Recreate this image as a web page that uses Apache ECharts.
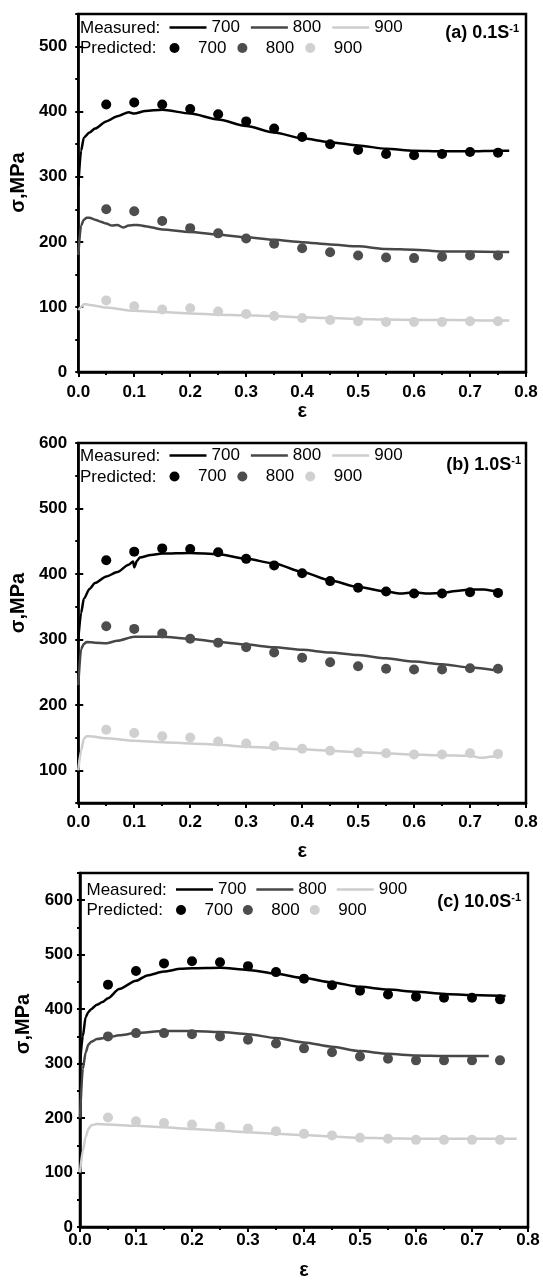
<!DOCTYPE html>
<html><head><meta charset="utf-8">
<script src="https://cdn.jsdelivr.net/npm/echarts@6/dist/echarts.min.js"></script>
<style>html,body{margin:0;padding:0;background:#fff}#c{width:543px;height:1281px}</style>
</head><body><div id="c"></div>
<script>
// ---------- data ----------
const temps = ['700', '800', '900'];
const strainPred = [0.05,0.10,0.15,0.20,0.25,0.30,0.35,0.40,0.45,0.50,0.55,0.60,0.65,0.70,0.75];
const panelLabels = ['(a) 0.1S', '(b) 1.0S', '(c) 10.0S'];

// (a) 0.1 s^-1
const aM700 = [[0,285],[0.005,340],[0.01,360],[0.02,368],[0.03,374],[0.05,385],[0.07,393],[0.09,399],[0.1,397],[0.12,401],[0.15,403],[0.2,397],[0.25,388],[0.3,378],[0.35,368],[0.4,359],[0.45,353],[0.5,348],[0.55,343],[0.6,340],[0.65,339],[0.7,339],[0.75,340],[0.77,340]];
const aM800 = [[0,180],[0.005,225],[0.01,234],[0.015,237],[0.02,237],[0.03,234],[0.04,231],[0.05,228],[0.06,225],[0.07,226],[0.08,222],[0.09,225],[0.1,226],[0.11,225.5],[0.12,224],[0.15,219],[0.2,215],[0.25,211],[0.3,207],[0.35,203],[0.4,199.5],[0.45,196],[0.5,193],[0.55,189],[0.6,188],[0.65,185],[0.7,185],[0.75,184.5],[0.77,184.5]];
const aM900 = [[0,95],[0.005,100],[0.01,104],[0.015,104],[0.02,103],[0.05,99],[0.1,94],[0.15,92],[0.2,90],[0.25,88],[0.3,87],[0.35,86],[0.4,84],[0.45,83],[0.5,81.5],[0.55,80.5],[0.6,80],[0.65,80],[0.7,79.5],[0.75,79],[0.77,79]];
const aP700 = [411,414,411,404,396,385,374,361,350,341,335,333,335,338,337];
const aP800 = [250,247,232,221,213,205,197,190,184,179,176,175,177,179,179];
const aP900 = [110,101,96,98,93,89,86,83,80,78,77,77,77,78,78];

// (b) 1.0 s^-1
const bM700 = [[0,300],[0.005,340],[0.01,362],[0.02,377],[0.03,386],[0.05,396],[0.07,403],[0.09,414],[0.098,419],[0.1,410],[0.105,420],[0.11,425],[0.13,429],[0.15,431],[0.2,432],[0.25,430],[0.3,423],[0.35,416],[0.4,403],[0.45,390],[0.5,380],[0.55,373],[0.575,370],[0.6,372],[0.625,370],[0.65,371],[0.675,374],[0.7,376],[0.725,376],[0.75,372]];
const bM800 = [[0,230],[0.005,285],[0.01,293],[0.015,296],[0.03,295],[0.05,294],[0.07,298],[0.1,304],[0.15,304],[0.2,301],[0.25,296],[0.3,292],[0.35,288],[0.4,284],[0.45,280],[0.5,276],[0.55,271],[0.6,266],[0.65,262],[0.7,257],[0.75,252]];
const bM900 = [[0,100],[0.005,130],[0.01,148],[0.015,152],[0.02,152],[0.05,149],[0.1,145],[0.15,143],[0.2,141],[0.25,139],[0.3,136],[0.35,134],[0.4,132],[0.45,130],[0.5,127.5],[0.55,126],[0.6,124],[0.65,123],[0.7,122],[0.72,119],[0.74,121],[0.75,120]];
const bP700 = [421,434,439,438,433,423,413,401,389,379,373,370,370,372,371];
const bP800 = [320,316,309,301,295,288,280,272,265,259,255,254,254,256,255];
const bP900 = [162,157,152,150,144,141,137,133,130,127,126,124,124,126,125];

// (c) 10.0 s^-1
const cM700 = [[0,300],[0.005,350],[0.01,385],[0.015,395],[0.02,400],[0.03,408],[0.04,413],[0.05,420],[0.07,437],[0.1,452],[0.12,462],[0.15,469],[0.18,474],[0.2,475],[0.25,476],[0.3,472],[0.35,465],[0.4,457],[0.45,449],[0.5,441],[0.55,436],[0.6,432],[0.65,428],[0.7,426],[0.76,424]];
const cM800 = [[0,200],[0.005,290],[0.01,320],[0.015,335],[0.02,340],[0.03,345],[0.05,348],[0.07,352],[0.1,356],[0.15,360],[0.2,360],[0.25,358],[0.3,354],[0.35,347],[0.4,339],[0.45,331],[0.5,323],[0.55,318],[0.6,315],[0.65,314],[0.7,314],[0.73,314]];
const cM900 = [[0,100],[0.005,140],[0.01,165],[0.015,180],[0.02,187],[0.03,189],[0.05,188],[0.1,186],[0.15,183],[0.2,180],[0.25,177],[0.3,174],[0.35,171],[0.4,169],[0.45,166],[0.5,164],[0.55,163],[0.6,162],[0.65,162],[0.7,162],[0.78,162]];
const cP700 = [445,470,484,488,486,479,468,456,444,434,427,423,421,421,418];
const cP800 = [350,356,356,354,350,344,337,328,321,313,309,306,306,306,306];
const cP900 = [201,194,191,188,184,181,176,171,168,164,162,160,160,160,160];

const yRanges = [[0,550],[50,600],[0,650]];

// ---------- layout / style ----------
const FONT = "'Liberation Sans', Arial, Helvetica, sans-serif";
const colors = {'700':'#000000','800':'#474747','900':'#cdcdcd'};
const dotColors = {'700':'#000000','800':'#4d4d4d','900':'#d0d0d0'};
const panels = [
  {key:'a', grid:{left:73,right:17,top:14,height:358}, measured:[aM700,aM800,aM900], pred:[aP700,aP800,aP900],
   row1:28, row2:48.5, textX:80, legX:169.5, gap:11, lab:{x:519,y:33}, nameGapX:28, nameGapY:37, namePad:21, labMarginX:12, labMarginY:11},
  {key:'b', grid:{left:73,right:17,top:443,height:360}, measured:[bM700,bM800,bM900], pred:[bP700,bP800,bP900],
   row1:456, row2:477, textX:80, legX:169.5, gap:11, lab:{x:521,y:465}, nameGapX:38, nameGapY:37, namePad:40, labMarginX:11, labMarginY:11},
  {key:'c', grid:{left:80,right:15,top:873,height:354}, measured:[cM700,cM800,cM900], pred:[cP700,cP800,cP900],
   row1:890, row2:910.5, textX:86.5, legX:176, gap:10, lab:{x:521,y:902}, nameGapX:33, nameGapY:44, namePad:52, labMarginX:5, labMarginY:7}
];

const grids = [], xAxes = [], yAxes = [], yMajor = [], series = [], legends = [], graphics = [];
const axisLineStyle = {color:'#000', width:2.5};
panels.forEach((p, i) => {
  grids.push(Object.assign({show:true, borderColor:'#000', borderWidth:2.5, backgroundColor:'transparent'}, p.grid));
  xAxes.push({
    type:'value', gridIndex:i, min:0, max:0.8, interval:0.1,
    name:'ε', nameLocation:'middle', nameGap:p.nameGapX,
    nameTextStyle:{fontFamily:FONT, fontWeight:'bold', fontSize:20, color:'#000'},
    axisLine:{show:true, onZero:false, lineStyle:axisLineStyle},
    axisTick:{show:true, inside:false, length:5, lineStyle:{width:2, color:'#000'}},
    minorTick:{show:true, splitNumber:2, length:3, lineStyle:{width:2, color:'#000'}},
    splitLine:{show:false},
    axisLabel:{fontFamily:FONT, fontWeight:'bold', fontSize:17, color:'#000', margin:p.labMarginX,
      formatter:v => v.toFixed(1)}
  });
  // main y axis: ticks every 50 (short), labels every 100
  yAxes.push({
    type:'value', gridIndex:i, min:yRanges[i][0], max:yRanges[i][1], interval:50,
    name:'σ,MPa', nameLocation:'middle', nameGap:p.nameGapY, nameRotate:90,
    nameTextStyle:{fontFamily:FONT, fontWeight:'bold', fontSize:20, color:'#000', padding:[0,0,0,p.namePad]},
    axisLine:{show:true, onZero:false, lineStyle:axisLineStyle},
    axisTick:{show:true, inside:false, length:3, lineStyle:{width:2, color:'#000'}},
    splitLine:{show:false},
    axisLabel:{fontFamily:FONT, fontWeight:'bold', fontSize:17, color:'#000', margin:p.labMarginY,
      formatter:v => (v % 100 === 0 ? String(v) : '')}
  });
  // overlay y axis: longer major ticks at every 100
  const ov = {
    type:'value', gridIndex:i, min:yRanges[i][0], max:yRanges[i][1],
    axisLine:{show:false}, axisLabel:{show:false}, splitLine:{show:false},
    axisTick:{show:true, inside:false, length:5, lineStyle:{width:2, color:'#000'}}
  };
  if (yRanges[i][0] % 100 === 0) ov.interval = 100; else ov.splitNumber = 5;
  yMajor.push(ov);

  const mNames = [], pNames = [];
  temps.forEach((t, k) => {
    const name = p.key + 'M' + t;
    mNames.push({name, icon:'rect', itemStyle:{color:colors[t]}});
    series.push({name, type:'line', xAxisIndex:i, yAxisIndex:i, data:p.measured[k],
      showSymbol:false, symbol:'none', smooth:0.25, smoothMonotone:'x',
      lineStyle:{color:colors[t], width:2.5}, itemStyle:{color:colors[t]}, z:2, silent:true});
  });
  temps.forEach((t, k) => {
    const name = p.key + 'P' + t;
    pNames.push({name, icon:'circle', itemStyle:{color:dotColors[t]}});
    series.push({name, type:'scatter', xAxisIndex:i, yAxisIndex:i,
      data:strainPred.map((x, j) => [x, p.pred[k][j]]),
      symbol:'circle', symbolSize:10, itemStyle:{color:dotColors[t], opacity:1}, z:3, silent:true});
  });
  const legBase = {orient:'horizontal', padding:0, itemGap:p.gap, itemWidth:37, selectedMode:false,
    formatter:n => n.slice(2), textStyle:{fontFamily:FONT, fontSize:17, color:'#000', padding:[0,0,0,0]}};
  legends.push(Object.assign({}, legBase, {data:mNames, left:p.legX, top:p.row1 - 9, itemHeight:2.5}));
  legends.push(Object.assign({}, legBase, {data:pNames, left:p.legX, top:p.row2 - 9, itemHeight:10}));
  graphics.push({type:'text', x:p.textX, y:p.row1, style:{text:'Measured:', font:'17px ' + FONT, fill:'#000', verticalAlign:'middle'}});
  graphics.push({type:'text', x:p.textX, y:p.row2, style:{text:'Predicted:', font:'17px ' + FONT, fill:'#000', verticalAlign:'middle'}});
  graphics.push({type:'text', x:p.lab.x, y:p.lab.y, style:{
    text:'{m|' + panelLabels[i] + '}{s|-1}', align:'right', verticalAlign:'middle',
    rich:{m:{fontFamily:FONT, fontWeight:'bold', fontSize:18, color:'#000', lineHeight:20},
          s:{fontFamily:FONT, fontWeight:'bold', fontSize:11, color:'#000', verticalAlign:'top', lineHeight:11}}}});
});

const chart = echarts.init(document.getElementById('c'), null, {renderer:'canvas'});
chart.setOption({
  backgroundColor:'#fff',
  animation:false,
  grid:grids, xAxis:xAxes, yAxis:yAxes.concat(yMajor), legend:legends, series:series, graphic:graphics
});
</script></body></html>
